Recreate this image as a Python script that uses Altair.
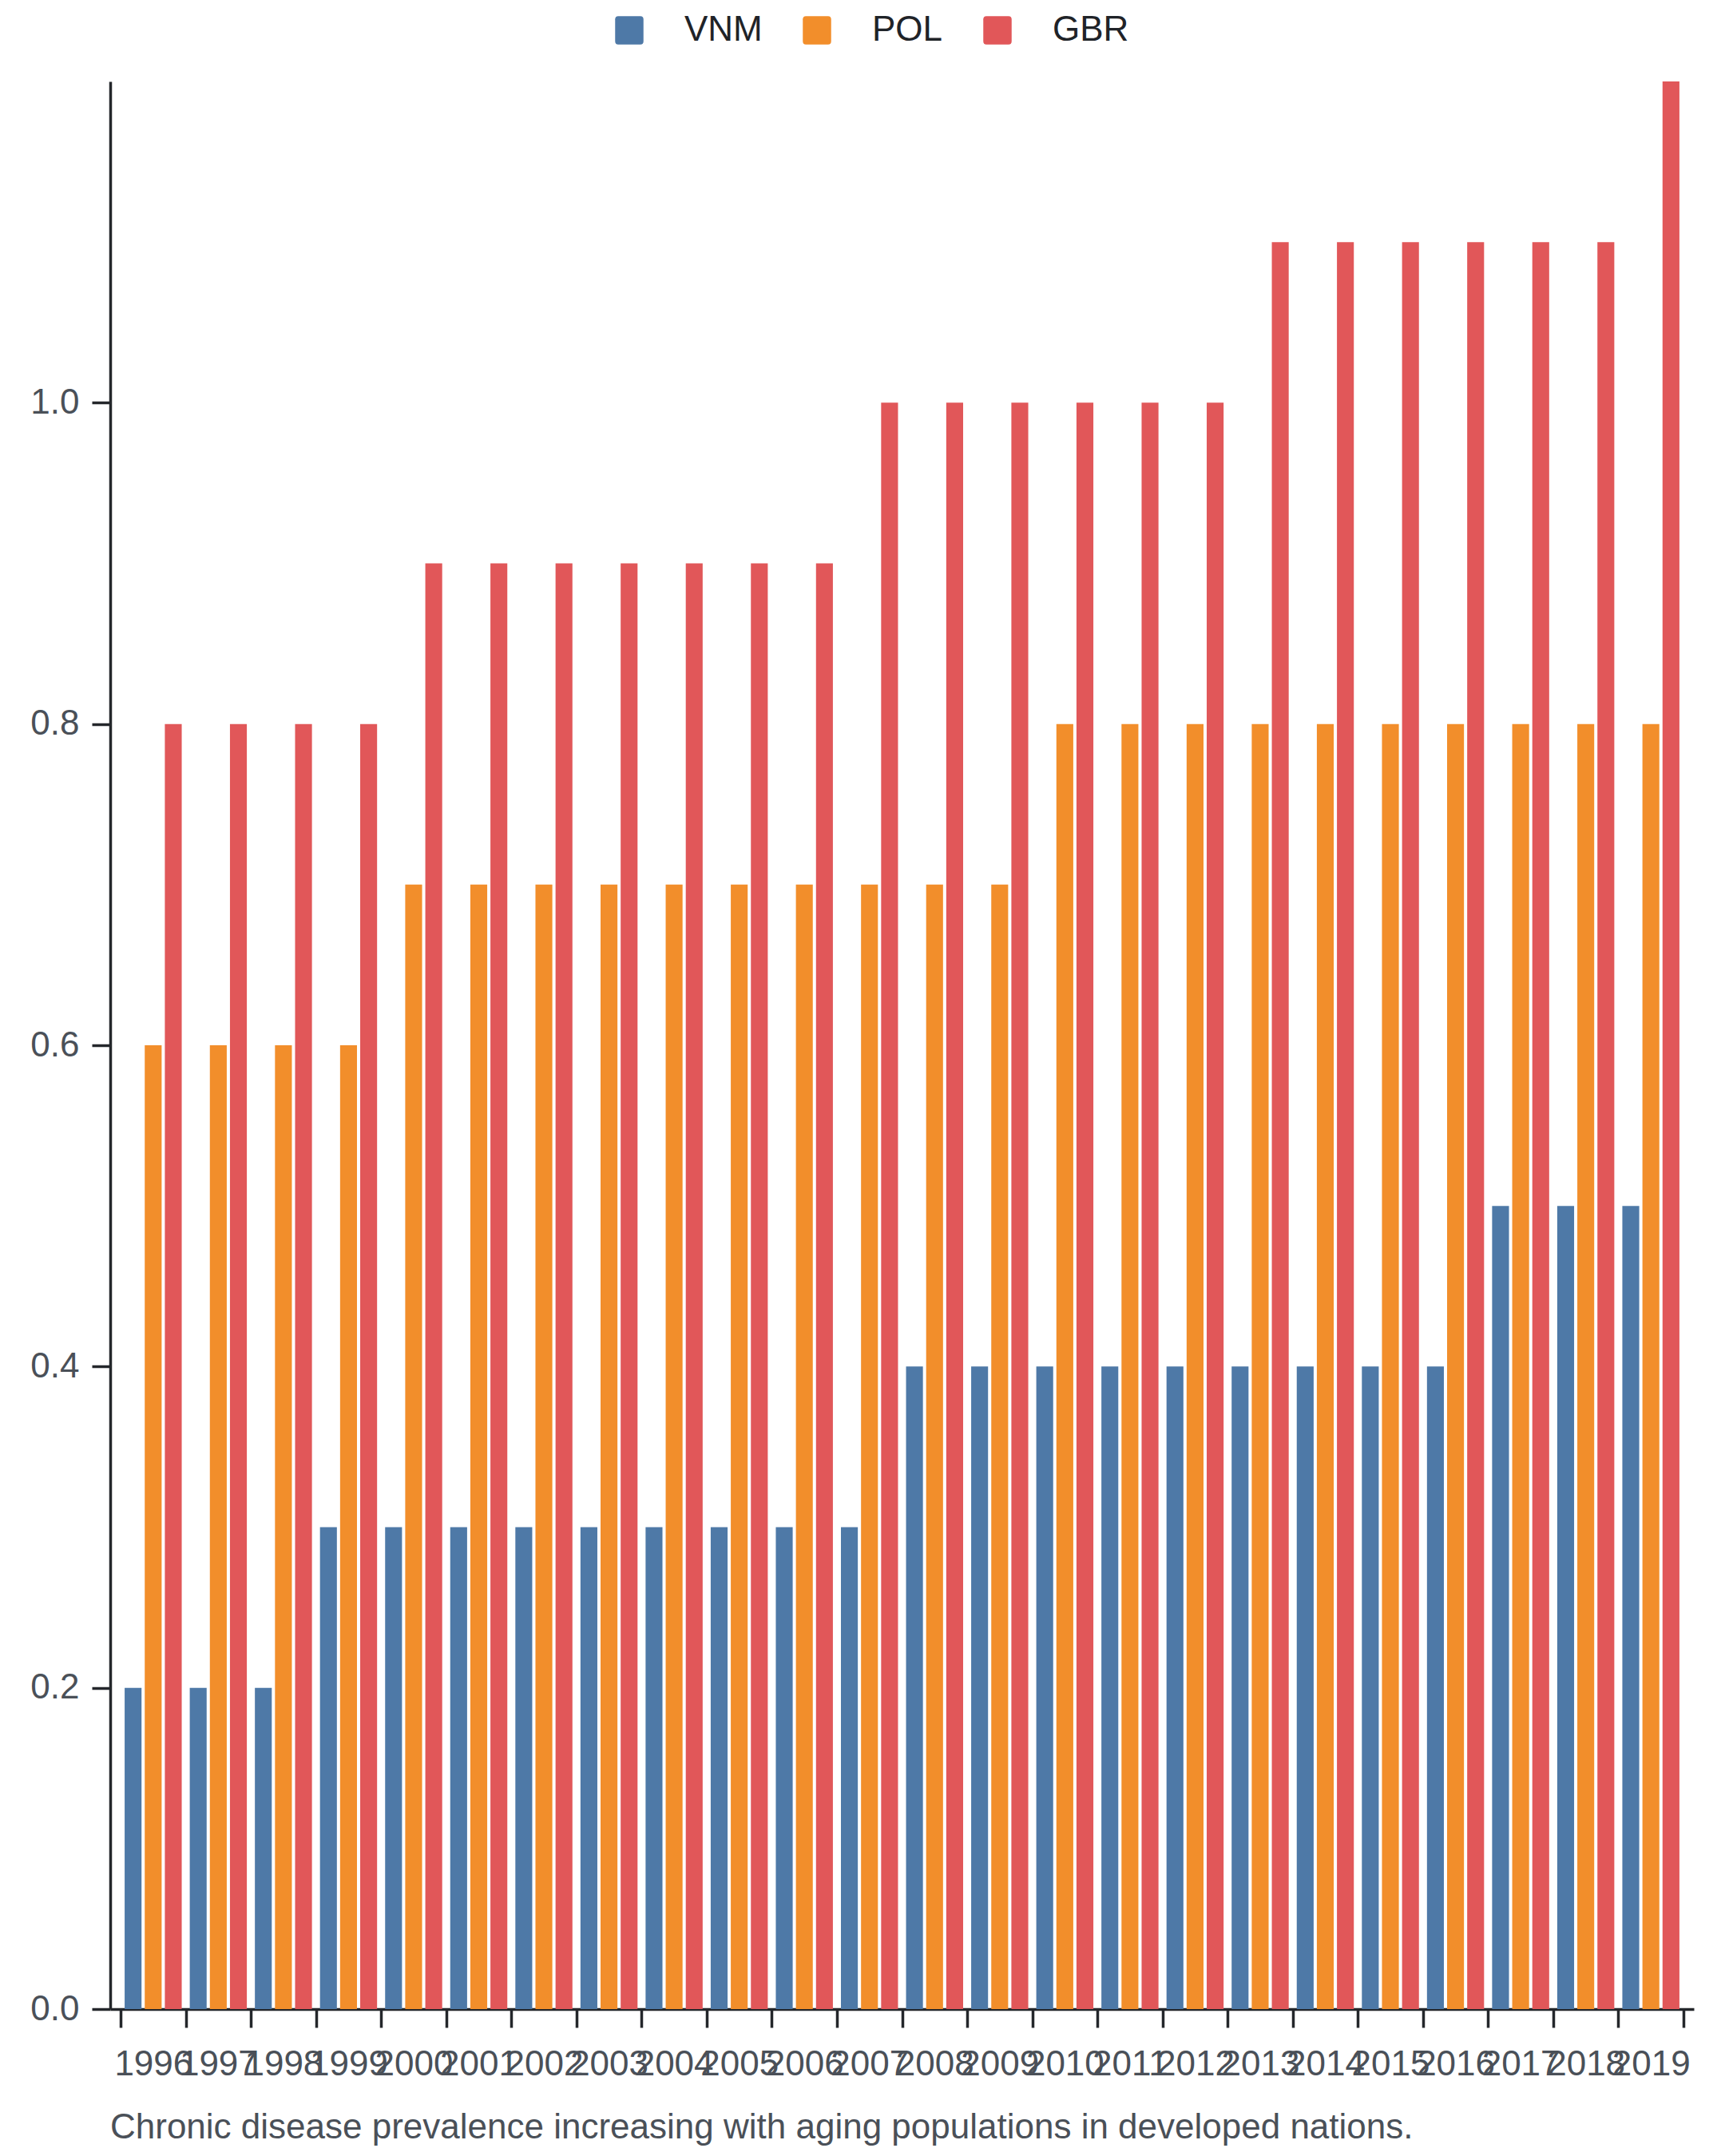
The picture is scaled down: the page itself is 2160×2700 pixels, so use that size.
import altair as alt
import pandas as pd

years = [str(y) for y in range(1996, 2020)]
countries = ["VNM", "POL", "GBR"]
colors = ["#4e79a7", "#f28e2b", "#e15759"]

vnm = [0.2, 0.2, 0.2, 0.3, 0.3, 0.3, 0.3, 0.3, 0.3, 0.3, 0.3, 0.3,
       0.4, 0.4, 0.4, 0.4, 0.4, 0.4, 0.4, 0.4, 0.4, 0.5, 0.5, 0.5]
pol = [0.6, 0.6, 0.6, 0.6, 0.7, 0.7, 0.7, 0.7, 0.7, 0.7, 0.7, 0.7,
       0.7, 0.7, 0.8, 0.8, 0.8, 0.8, 0.8, 0.8, 0.8, 0.8, 0.8, 0.8]
gbr = [0.8, 0.8, 0.8, 0.8, 0.9, 0.9, 0.9, 0.9, 0.9, 0.9, 0.9, 1.0,
       1.0, 1.0, 1.0, 1.0, 1.0, 1.1, 1.1, 1.1, 1.1, 1.1, 1.1, 1.2]

y_ticks = [0.0, 0.2, 0.4, 0.6, 0.8, 1.0]
caption = "Chronic disease prevalence increasing with aging populations in developed nations."

rows = []
for name, series in zip(countries, [vnm, pol, gbr]):
    for yr, v in zip(years, series):
        rows.append({"year": yr, "country": name, "value": v})
df = pd.DataFrame(rows)

FONT = "Liberation Sans, Arial, Helvetica, sans-serif"
rounded = "M-0.78,-1H0.78Q1,-1 1,-0.78V0.78Q1,1 0.78,1H-0.78Q-1,1 -1,0.78V-0.78Q-1,-1 -0.78,-1Z"

chart = alt.Chart(df).mark_bar().encode(
    x=alt.X(
        "year:N",
        sort=years,
        scale=alt.Scale(paddingInner=0, paddingOuter=0.16),
        axis=alt.Axis(
            title=None, labelAngle=0, tickBand="extent", labelOverlap=False,
            labelPadding=24, tickSize=23,
        ),
    ),
    xOffset=alt.XOffset(
        "country:N", sort=countries,
        scale=alt.Scale(paddingInner=0.16, paddingOuter=0.2),
    ),
    y=alt.Y(
        "value:Q",
        scale=alt.Scale(domain=[0, 1.2], nice=False),
        axis=alt.Axis(title=None, values=y_ticks, format=".1f", grid=False,
                      labelPadding=16, tickSize=23),
    ),
    color=alt.Color(
        "country:N",
        sort=countries,
        scale=alt.Scale(domain=countries, range=colors),
        legend=alt.Legend(
            title=None, orient="none", direction="horizontal",
            legendX=628, legendY=-86,
            symbolType=rounded, symbolSize=1260, symbolStrokeWidth=0,
            labelFontSize=44, labelColor="#1f2328", labelFont=FONT,
            labelOffset=47, columnPadding=46,
        ),
    ),
).properties(
    width=1983,
    height=2414,
    padding={"left": 29, "top": 8, "right": 20, "bottom": 5},
    title=alt.Title(
        caption, orient="bottom", anchor="start", frame="group",
        fontSize=44, fontWeight="normal", color="#4a5058", font=FONT, offset=36,
    ),
).configure_view(
    stroke=None
).configure_axis(
    domainColor="#24272b", domainWidth=3.5, tickColor="#24272b", tickWidth=3.5,
    labelColor="#4a5058", labelFontSize=44, labelFont=FONT,
)

chart.save("out.html", embed_options={"renderer": "svg", "actions": False})
